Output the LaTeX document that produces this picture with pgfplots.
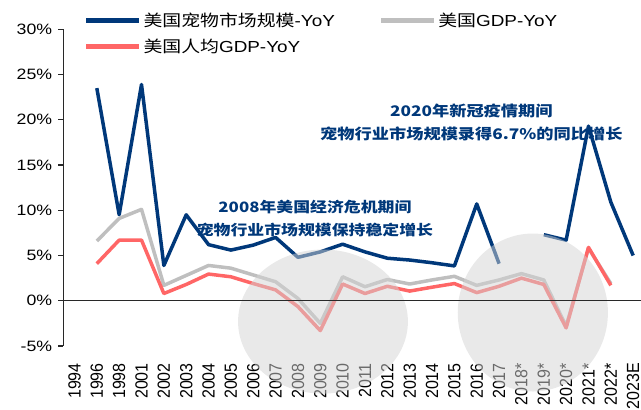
\documentclass[border=0pt]{standalone}
\usepackage{pgfplots}
\pgfplotsset{compat=1.18}
\usepackage{pgfplotstable}
\usepackage{fontspec}
\setmainfont{Liberation Sans}[FakeStretch=1.18]
\newfontfamily\plainsans{Liberation Sans}
\newfontfamily\cjk{Noto Sans CJK SC}[FakeStretch=1.18]
\definecolor{cblue}{RGB}{0,56,122}
\definecolor{cgray}{RGB}{191,191,191}
\definecolor{cred}{RGB}{255,102,102}
\definecolor{caxis}{RGB}{40,40,40}
\definecolor{ccirc}{RGB}{212,212,212}

\pgfplotstableread{
idx blue gray red
0 nan nan nan
1 23.5 6.6 4.1
2 9.5 9.1 6.7
3 23.9 10.1 6.7
4 3.9 1.7 0.8
5 9.5 2.8 1.8
6 6.2 3.9 2.95
7 5.6 3.6 2.65
8 6.15 2.85 1.9
9 7.0 2.1 1.2
10 4.8 0.25 -0.65
11 5.4 -2.5 -3.3
12 6.25 2.65 1.85
13 5.4 1.55 0.8
14 4.7 2.35 1.6
15 4.5 1.85 1.07
16 4.2 2.3 1.5
17 3.85 2.7 1.9
18 10.7 1.7 0.9
19 4.1 2.3 1.6
20 nan 3.0 2.5
21 7.3 2.3 1.8
22 6.7 -2.8 -3.0
23 19.3 5.8 5.9
24 10.9 1.9 1.7
25 5.0 nan nan
}\datatable

\pgfplotsset{mycommon/.style={scale only axis, width=577.7pt, height=316.7pt,
  xmin=-0.5, xmax=25.35, ymin=-5, ymax=30, at={(63.3pt,64pt)}, anchor=south west}}

\begin{document}
\begin{tikzpicture}[x=1pt,y=1pt]
\begin{axis}[mycommon,
  axis y line=left, axis x line=bottom,
  x axis line style={draw=none},
  y axis line style={-, line width=1.2pt, caxis},
  xtick={0,...,25},
  xticklabels={1994,1996,1998,2001,2002,2003,2004,2005,2006,2007,2008,2009,2010,2011,2012,2013,2014,2015,2016,2017,2018*,2019*,2020*,2021*,2022*,2023E},
  xtick style={draw=none},
  xticklabel shift=12pt,
  xticklabel style={font=\plainsans\fontsize{16}{16}\selectfont, rotate=90, anchor=east, inner sep=0pt, yscale=1.1},
  ytick={-5,0,...,30},
  yticklabel={\pgfmathprintnumber{\tick}\%},
  ytick style={line width=1.2pt, caxis},
  tick align=outside, major tick length=5pt,
  yticklabel style={font=\fontsize{15}{15}\selectfont, inner sep=0pt, xshift=-6pt},
  /pgf/number format/assume math mode=true,
  unbounded coords=jump,
  legend columns=2,
  legend cell align=left,
  legend image code/.code={\draw[#1,line width=4.5pt] (0pt,0pt) -- (53pt,0pt);},
  legend style={at={(0.0356,1.059)}, anchor=north west, draw=none, fill=none,
    font=\fontsize{16}{16}\selectfont, inner sep=0pt,
    /tikz/every even column/.append style={column sep=42pt}, row sep=7pt},
]
\addplot[cblue, line width=3.5pt, line join=round] table[x=idx,y=blue]{\datatable};
\addlegendentry{{\cjk 美国宠物市场规模}-YoY}
\addplot[cgray, line width=3.5pt, line join=round] table[x=idx,y=gray]{\datatable};
\addlegendentry{{\cjk 美国}GDP-YoY}
\addplot[cred, line width=3.5pt, line join=round] table[x=idx,y=red]{\datatable};
\addlegendentry{{\cjk 美国人均}GDP-YoY}
\node[font=\cjk\bfseries\fontsize{14.3}{23}\selectfont, text=cblue, align=center] at (axis cs:10.76,9.1) {2008年美国经济危机期间\\宠物行业市场规模保持稳定增长};
\node[font=\cjk\bfseries\fontsize{14.6}{23}\selectfont, text=cblue, align=center] at (axis cs:17.76,19.75) {2020年新冠疫情期间\\宠物行业市场规模录得6.7\%的同比增长};
\end{axis}
\begin{axis}[mycommon, clip=false, axis on top,
  axis x line=middle, axis y line=none,
  x axis line style={-, line width=1.2pt, caxis},
  xtick=\empty, ytick=\empty,
  minor xtick={0.5,1.5,...,24.5},
  minor tick length=6pt, tick align=outside,
  minor tick style={line width=1.2pt, caxis},
]
\fill[ccirc, opacity=0.5] (axis cs:11.12,-2.3) ellipse [x radius=3.8, y radius=7.96];
\fill[ccirc, opacity=0.5] (axis cs:20.51,-1.3) ellipse [x radius=3.36, y radius=8.73];
\end{axis}
\pgfresetboundingbox
\path[use as bounding box] (0,0) rectangle (641,410);
\end{tikzpicture}
\end{document}
